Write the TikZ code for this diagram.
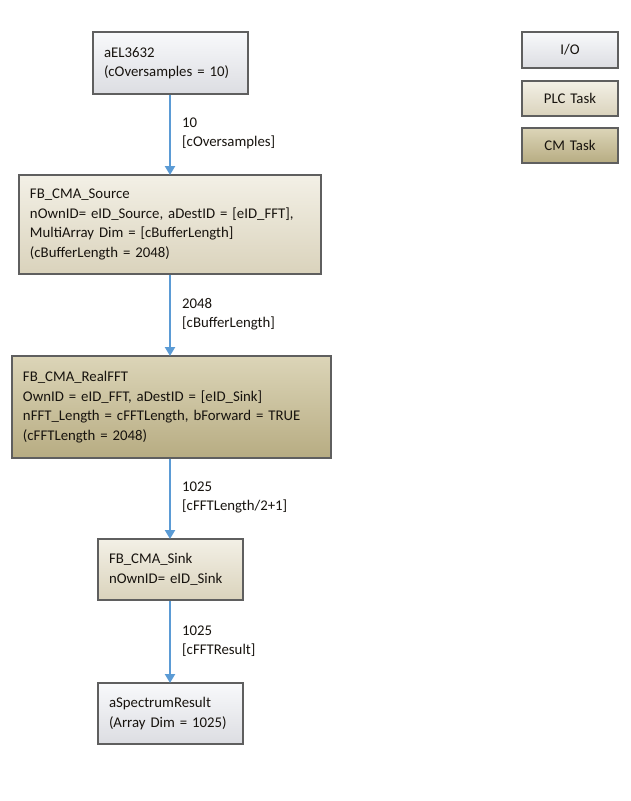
\documentclass[tikz,border=0pt]{standalone}
\usepackage{fontspec}
\setmainfont{Carlito}
\usetikzlibrary{arrows.meta}
\definecolor{bordergrey}{HTML}{5F5F5F}
\definecolor{iotop}{HTML}{F8F9FB}
\definecolor{iobot}{HTML}{DCDDE2}
\definecolor{plctop}{HTML}{F3F0E6}
\definecolor{plcbot}{HTML}{DAD3BC}
\definecolor{cmtop}{HTML}{DCD5B8}
\definecolor{cmbot}{HTML}{B7AC82}
\definecolor{arrowblue}{HTML}{5B9BD5}
\definecolor{txt}{HTML}{17130E}
\tikzset{
  x=1pt,y=-1pt,
  box/.style={draw=bordergrey,line width=2pt,rectangle,inner xsep=11pt,inner ysep=0pt,
    align=left,text=txt,font=\fontsize{14.8}{19.5}\selectfont,anchor=north west},
  iobox/.style={box,top color=iotop,bottom color=iobot},
  plcbox/.style={box,top color=plctop,bottom color=plcbot},
  cmbox/.style={box,top color=cmtop,bottom color=cmbot},
  legend/.style={align=center,inner xsep=0pt},
  flow/.style={draw=arrowblue,line width=2.8pt,-{Triangle[length=9pt,width=10pt]},shorten >=-1pt},
  lbl/.style={anchor=west,align=left,text=txt,font=\fontsize{14.8}{19}\selectfont,inner sep=0pt}
}
\begin{document}
\begin{tikzpicture}
\useasboundingbox (0,0) rectangle (631,801);
% main nodes
\node[iobox,minimum width=155pt,minimum height=62pt,text width=133pt] (el) at (92,31)
  {aEL3632\\(cOversamples = 10)};
\node[plcbox,minimum width=302pt,minimum height=99pt,text width=280pt] (src) at (18,174)
  {FB\_CMA\_Source\\nOwnID= eID\_Source, aDestID = {[}eID\_FFT{]},\\MultiArray Dim = {[}cBufferLength{]}\\(cBufferLength = 2048)};
\node[cmbox,minimum width=319pt,minimum height=102pt,text width=297pt] (fft) at (11,355)
  {FB\_CMA\_RealFFT\\OwnID = eID\_FFT, aDestID = {[}eID\_Sink{]}\\nFFT\_Length = cFFTLength, bForward = TRUE\\(cFFTLength = 2048)};
\node[plcbox,minimum width=145pt,minimum height=61pt,text width=123pt] (sink) at (97,538)
  {FB\_CMA\_Sink\\nOwnID= eID\_Sink};
\node[iobox,minimum width=145pt,minimum height=61pt,text width=123pt] (res) at (97,682)
  {aSpectrumResult\\(Array Dim = 1025)};
% legend
\node[iobox,legend,minimum width=96pt,minimum height=36pt,text width=96pt] (lio) at (521,31) {I/O};
\node[plcbox,legend,minimum width=96pt,minimum height=35pt,text width=96pt] (lplc) at (521,80) {PLC Task};
\node[cmbox,legend,minimum width=96pt,minimum height=35pt,text width=96pt] (lcm) at (521,127) {CM Task};
% connectors
\coordinate (a1) at (170,93);
\draw[flow] (el.south -| a1) -- (src.north -| a1);
\draw[flow] (src.south -| a1) -- (fft.north -| a1);
\draw[flow] (fft.south -| a1) -- (sink.north -| a1);
\draw[flow] (sink.south -| a1) -- (res.north -| a1);
% labels
\node[lbl] (l1) at (182,133) {10\\{[}cOversamples{]}};
\node[lbl] (l2) at (182,314) {2048\\{[}cBufferLength{]}};
\node[lbl] (l3) at (182,497) {1025\\{[}cFFTLength/2+1{]}};
\node[lbl] (l4) at (182,641) {1025\\{[}cFFTResult{]}};
\end{tikzpicture}
\end{document}
